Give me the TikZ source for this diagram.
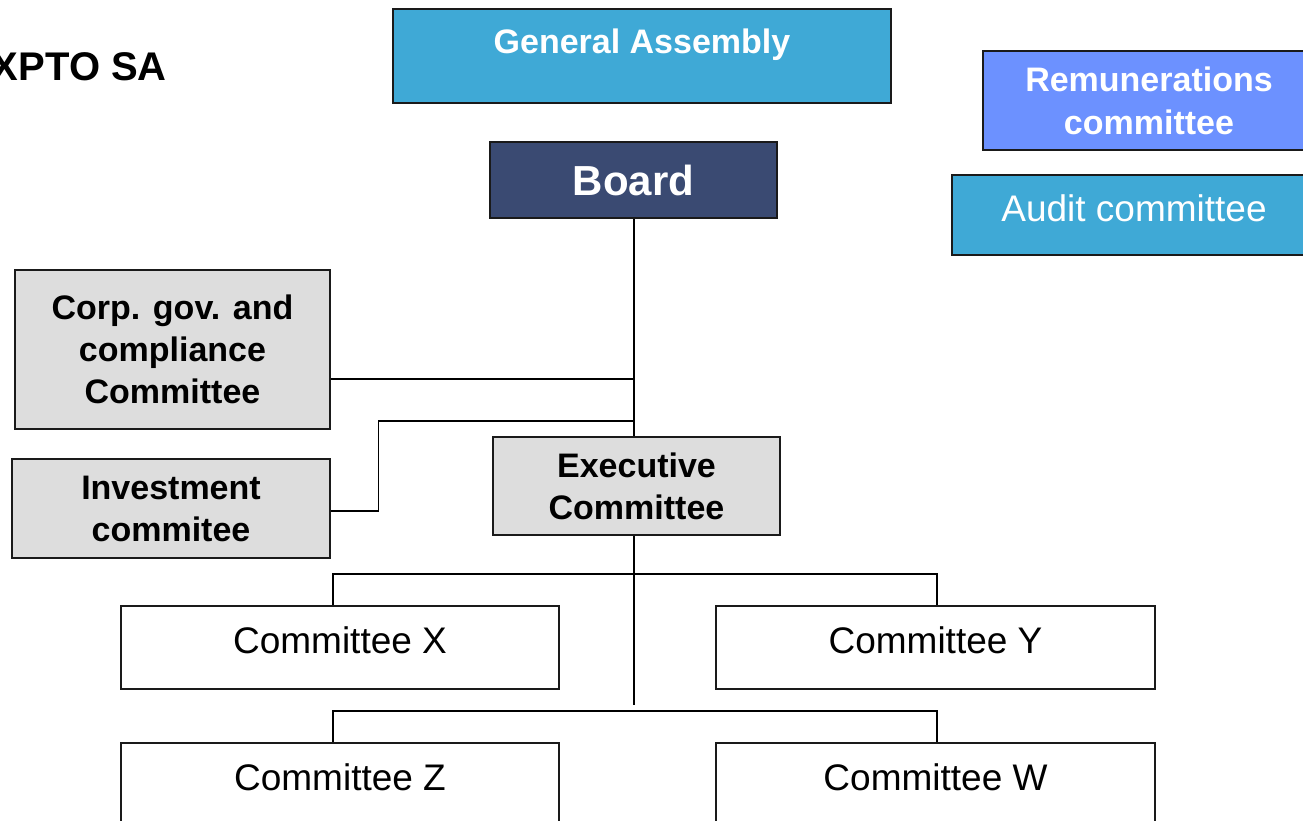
\documentclass[tikz,border=0pt]{standalone}
\usepackage{fontspec}
\setmainfont{Liberation Sans}
\usetikzlibrary{backgrounds}
\definecolor{gablue}{HTML}{3FA9D6}
\definecolor{remblue}{HTML}{6C91FF}
\definecolor{boardblue}{HTML}{3A4A72}
\definecolor{boxgray}{HTML}{DDDDDD}
\definecolor{edge}{HTML}{1A1A1A}
\tikzset{
  bx/.style={draw=edge, line width=1.4pt, inner sep=0pt, align=center},
  bolda/.style={font=\fontsize{34}{42}\selectfont\bfseries},
  rega/.style={font=\fontsize{37}{44}\selectfont},
  conn/.style={draw=black, line width=1.3pt},
}
\begin{document}
\begin{tikzpicture}[x=1pt,y=-1pt]
\useasboundingbox (0,0) rectangle (1303,821);
% title
\node[bolda, font=\fontsize{40}{48}\selectfont\bfseries, anchor=east, inner sep=0pt] (title) at (167,67) {XPTO SA};
% boxes
\node[bx, fill=gablue, minimum width=498pt, minimum height=94pt,
      label={[bolda, text=white, anchor=center, yshift=-36pt]north:General Assembly}] (ga) at (642,56) {};
\node[bx, fill=remblue, text=white, bolda, minimum width=332pt, minimum height=99pt, yshift=0pt] (rem) at (1149,100.5) {Remunerations\\[1pt]committee};
\node[bx, fill=gablue, text=white, rega, minimum width=364pt, minimum height=80pt, text depth=14pt] (audit) at (1134,215) {Audit committee};
\node[bx, fill=boardblue, text=white, font=\fontsize{42}{50}\selectfont\bfseries, minimum width=287pt, minimum height=76pt] (board) at (633.5,180) {Board};
\node[bx, fill=boxgray, bolda, minimum width=315pt, minimum height=159pt] (corp) at (172.5,349.5) {Corp. gov. and\\compliance\\Committee};
\node[bx, fill=boxgray, bolda, minimum width=318pt, minimum height=99pt] (inv) at (171,508.5) {Investment\\commitee};
\node[bx, fill=boxgray, bolda, minimum width=287pt, minimum height=98pt] (exec) at (636.5,486) {Executive\\Committee};
\node[bx, fill=white, rega, minimum width=438pt, minimum height=83pt, text depth=15pt] (cx) at (340,647.5) {Committee X};
\node[bx, fill=white, rega, minimum width=439pt, minimum height=83pt, text depth=15pt] (cy) at (935.5,647.5) {Committee Y};
\node[bx, fill=white, rega, minimum width=438pt, minimum height=83pt, text depth=15pt] (cz) at (340,784.5) {Committee Z};
\node[bx, fill=white, rega, minimum width=439pt, minimum height=83pt, text depth=15pt] (cw) at (935.5,784.5) {Committee W};
% junction coordinates
\coordinate (trunkend) at (634,705);
\coordinate (j1) at (634,379);
\coordinate (j2) at (634,421);
\coordinate (b1l) at (333,574);
\coordinate (b1r) at (937,574);
\coordinate (b2l) at (333,711);
\coordinate (b2r) at (937,711);
\begin{scope}[on background layer]
\draw[conn] (board.south -| trunkend) -- (trunkend);
\draw[conn] (corp.east |- j1) -- (j1);
\draw[conn] (inv.east) ++(0,2.5) -- ++(48,0) |- (j2);
\draw[conn] (b1l |- cx.north) -- (b1l) -- (b1r) -- (b1r |- cy.north);
\draw[conn] (b2l |- cz.north) -- (b2l) -- (b2r) -- (b2r |- cw.north);
\end{scope}
\end{tikzpicture}
\end{document}
